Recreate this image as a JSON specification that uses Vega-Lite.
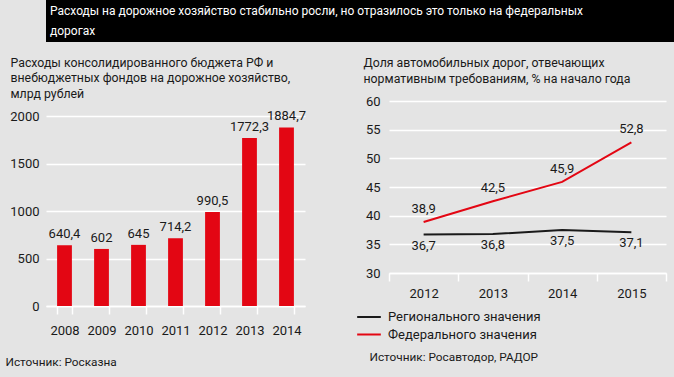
{
  "$schema": "https://vega.github.io/schema/vega-lite/v6.json",
  "padding": {"left": 0, "top": 0, "right": 0, "bottom": 11},
  "background": "#e4e4e4",
  "spacing": 14,
  "resolve": {"scale": {"color": "independent"}, "legend": {"color": "independent"}},
  "config": {
    "locale": {"number": {"decimal": ",", "thousands": " ", "grouping": [3], "currency": ["", ""]}},
    "font": "Roboto",
    "view": {"stroke": null},
    "axis": {
      "labelFont": "Roboto",
      "labelFontSize": 13,
      "labelColor": "#1a1a1a",
      "gridColor": "white",
      "gridWidth": 1.5,
      "domainColor": "white",
      "domainWidth": 1.5,
      "tickColor": "white",
      "tickWidth": 1.5,
      "titleFont": "Roboto",
      "titleFontWeight": "normal",
      "titleFontSize": 11.8,
      "titleColor": "#1a1a1a"
    },
    "title": {"font": "Roboto", "fontWeight": "normal", "color": "#1a1a1a"}
  },
  "vconcat": [
    {
      "width": 674,
      "height": 42,
      "view": {"fill": "black", "stroke": null},
      "data": {"values": [{"bar": 1}]},
      "mark": {"type": "rect", "fill": "black"},
      "encoding": {},
      "title": {
        "text": ["Расходы на дорожное хозяйство стабильно росли, но отразилось это только на федеральных", "дорогах"],
        "anchor": "start",
        "frame": "group",
        "orient": "top",
        "offset": -38,
        "dx": 4,
        "color": "white",
        "fontSize": 12,
        "lineHeight": 20
      }
    },
    {
      "spacing": 49,
      "resolve": {"scale": {"color": "independent"}, "legend": {"color": "independent"}},
      "hconcat": [
        {
          "width": 259,
          "height": 205,
          "data": {"values": [
            {"year": "2008", "value": 640.4},
            {"year": "2009", "value": 602},
            {"year": "2010", "value": 645},
            {"year": "2011", "value": 714.2},
            {"year": "2012", "value": 990.5},
            {"year": "2013", "value": 1772.3},
            {"year": "2014", "value": 1884.7}
          ]},
          "encoding": {
            "x": {
              "field": "year", "type": "ordinal",
              "scale": {"paddingInner": 0.6, "paddingOuter": 0.3},
              "axis": {
                "title": "Источник: Росказна",
                "titleAnchor": "start",
                "titleAlign": "left",
                "titleBaseline": "middle",
                "titleX": -41,
                "titleY": 55,
                "labelAngle": 0,
                "tickBand": "extent",
                "tickSize": 8,
                "labelPadding": 10
              }
            },
            "y": {
              "field": "value", "type": "quantitative",
              "scale": {"domain": [0, 2163]},
              "axis": {
                "title": ["Расходы консолидированного бюджета РФ и", "внебюджетных фондов на дорожное хозяйство,", "млрд рублей"],
                "titleAngle": 0,
                "titleAlign": "left",
                "titleBaseline": "top",
                "titleAnchor": "start",
                "titleX": -36,
                "titleY": -45,
                "titleFontSize": 12.3,
                "titleLineHeight": 15.5,
                "format": "d",
                "values": [0, 500, 1000, 1500, 2000],
                "domain": false, "ticks": false, "labelPadding": 7,
                "minExtent": 46, "maxExtent": 46
              }
            }
          },
          "layer": [
            {"mark": {"type": "bar", "color": "#e30613"}},
            {
              "mark": {"type": "text", "baseline": "bottom", "dy": -4, "fontSize": 13, "color": "#1a1a1a"},
              "encoding": {"text": {"field": "value", "type": "quantitative", "format": "~f"}}
            }
          ]
        },
        {
          "width": 277,
          "height": 172,
          "data": {"values": [
            {"year": "2012", "series": "Регионального значения", "value": 36.7},
            {"year": "2013", "series": "Регионального значения", "value": 36.8},
            {"year": "2014", "series": "Регионального значения", "value": 37.5},
            {"year": "2015", "series": "Регионального значения", "value": 37.1},
            {"year": "2012", "series": "Федерального значения", "value": 38.9},
            {"year": "2013", "series": "Федерального значения", "value": 42.5},
            {"year": "2014", "series": "Федерального значения", "value": 45.9},
            {"year": "2015", "series": "Федерального значения", "value": 52.8}
          ]},
          "encoding": {
            "x": {
              "field": "year", "type": "ordinal",
              "scale": {"type": "band", "paddingInner": 0, "paddingOuter": 0},
              "axis": {
                "title": "Источник: Росавтодор, РАДОР",
                "titleAnchor": "start",
                "titleAlign": "left",
                "titleBaseline": "middle",
                "titleX": -20,
                "titleY": 83,
                "labelAngle": 0,
                "tickBand": "extent",
                "tickSize": 8,
                "labelPadding": 6
              }
            },
            "y": {
              "field": "value", "type": "quantitative",
              "scale": {"domain": [30, 60]},
              "axis": {
                "title": ["Доля автомобильных дорог, отвечающих", "нормативным требованиям, % на начало года"],
                "titleAngle": 0,
                "titleAlign": "left",
                "titleBaseline": "top",
                "titleAnchor": "start",
                "titleX": -26,
                "titleY": -45,
                "titleFontSize": 12.3,
                "titleLineHeight": 16.7,
                "values": [30, 35, 40, 45, 50, 55, 60],
                "domain": false, "ticks": false, "labelPadding": 9,
                "minExtent": 26, "maxExtent": 26
              }
            }
          },
          "layer": [
            {
              "mark": {"type": "line", "strokeWidth": 2},
              "encoding": {
                "color": {
                  "field": "series", "type": "nominal",
                  "scale": {"domain": ["Регионального значения", "Федерального значения"], "range": ["#1a1a1a", "#e30613"]},
                  "legend": {
                    "title": null,
                    "orient": "none",
                    "legendX": -33,
                    "legendY": 208,
                    "symbolType": "stroke",
                    "symbolSize": 560,
                    "symbolStrokeWidth": 2,
                    "clipHeight": 16,
                    "labelFont": "Roboto",
                    "labelFontSize": 13,
                    "labelColor": "#1a1a1a",
                    "labelOffset": 6,
                    "rowPadding": 1.6
                  }
                }
              }
            },
            {
              "transform": [{"filter": "datum.series === 'Федерального значения'"}],
              "mark": {"type": "text", "baseline": "bottom", "dy": -6, "fontSize": 13, "color": "#1a1a1a"},
              "encoding": {"text": {"field": "value", "type": "quantitative", "format": "~f"}}
            },
            {
              "transform": [{"filter": "datum.series === 'Регионального значения'"}],
              "mark": {"type": "text", "baseline": "top", "dy": 5, "fontSize": 13, "color": "#1a1a1a"},
              "encoding": {"text": {"field": "value", "type": "quantitative", "format": "~f"}}
            }
          ]
        }
      ]
    }
  ]
}
